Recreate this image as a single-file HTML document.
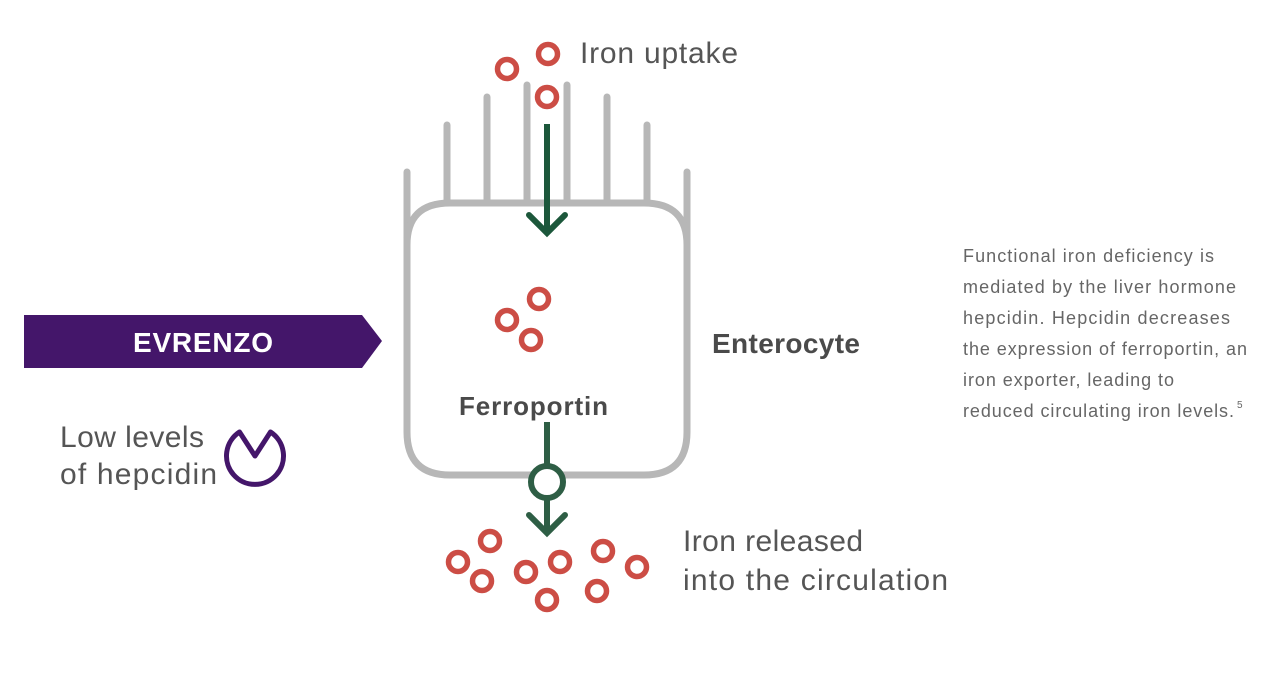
<!DOCTYPE html>
<html><head><meta charset="utf-8"><style>
html,body{margin:0;padding:0;background:#fff;width:1280px;height:682px;overflow:hidden}
svg{display:block}
text{font-family:"Liberation Sans",sans-serif}
</style></head><body>
<svg width="1280" height="682" viewBox="0 0 1280 682" xmlns="http://www.w3.org/2000/svg">
<g stroke="#b7b7b7" stroke-width="7" stroke-linecap="round" fill="none">
<path d="M407,172 V432 Q407,475 450,475 H644 Q687,475 687,432 V172"/>
<path d="M407,245 Q407,203 450,203 H644 Q687,203 687,245"/>
<line x1="447" y1="125" x2="447" y2="203"/>
<line x1="487" y1="97" x2="487" y2="203"/>
<line x1="527" y1="85" x2="527" y2="203"/>
<line x1="567" y1="85" x2="567" y2="203"/>
<line x1="607" y1="97" x2="607" y2="203"/>
<line x1="647" y1="125" x2="647" y2="203"/>
</g>
<g stroke="#1c573b" stroke-width="6" fill="none">
<line x1="547" y1="124" x2="547" y2="233"/>
<polyline points="529,215 547,233 565,215" stroke-linecap="round"/>
</g>
<g stroke="#2e5e45" stroke-width="6" fill="none">
<line x1="547" y1="422" x2="547" y2="466"/>
<circle cx="547" cy="482" r="16" fill="#fff"/>
<line x1="547" y1="498" x2="547" y2="533"/>
<polyline points="529,515 547,533 565,515" stroke-linecap="round"/>
</g>
<g stroke="#cc4d45" stroke-width="5.5" fill="none">
<circle cx="507" cy="69" r="9.5"/><circle cx="548" cy="54" r="9.5"/><circle cx="547" cy="97" r="9.5"/>
<circle cx="539" cy="299" r="9.5"/><circle cx="507" cy="320" r="9.5"/><circle cx="531" cy="340" r="9.5"/>
<circle cx="490" cy="541" r="9.5"/><circle cx="458" cy="562" r="9.5"/><circle cx="482" cy="581" r="9.5"/>
<circle cx="526" cy="572" r="9.5"/><circle cx="560" cy="562" r="9.5"/><circle cx="547" cy="600" r="9.5"/>
<circle cx="603" cy="551" r="9.5"/><circle cx="637" cy="567" r="9.5"/><circle cx="597" cy="591" r="9.5"/>
</g>
<polygon points="24,315 362,315 382,341 362,368 24,368" fill="#44166a"/>
<text x="203" y="352" text-anchor="middle" fill="#fff" font-size="28" font-weight="bold" textLength="140">EVRENZO</text>
<path d="M239.5,432 A28.5,28.5 0 1 0 270.5,432 L255,456 Z" fill="none" stroke="#44166a" stroke-width="5" stroke-linejoin="round"/>
<g fill="#555" font-size="30">
<text x="60" y="447" textLength="144">Low levels</text>
<text x="60" y="484" textLength="157">of hepcidin</text>
<text x="580" y="63" textLength="158">Iron uptake</text>
<text x="683" y="551" textLength="180">Iron released</text>
<text x="683" y="590" textLength="265">into the circulation</text>
</g>
<text x="712" y="353" fill="#4a4a4a" font-size="28" font-weight="bold" textLength="148">Enterocyte</text>
<text x="459" y="415" fill="#4a4a4a" font-size="26" font-weight="bold" textLength="149">Ferroportin</text>
<g fill="#666" font-size="18">
<text x="963" y="262" textLength="251">Functional iron deficiency is</text>
<text x="963" y="293" textLength="273">mediated by the liver hormone</text>
<text x="963" y="324" textLength="267">hepcidin. Hepcidin decreases</text>
<text x="963" y="355" textLength="284">the expression of ferroportin, an</text>
<text x="963" y="386" textLength="211">iron exporter, leading to</text>
<text x="963" y="417" textLength="271">reduced circulating iron levels.</text>
<text x="1237" y="408" font-size="10">5</text>
</g>
</svg>
</body></html>
